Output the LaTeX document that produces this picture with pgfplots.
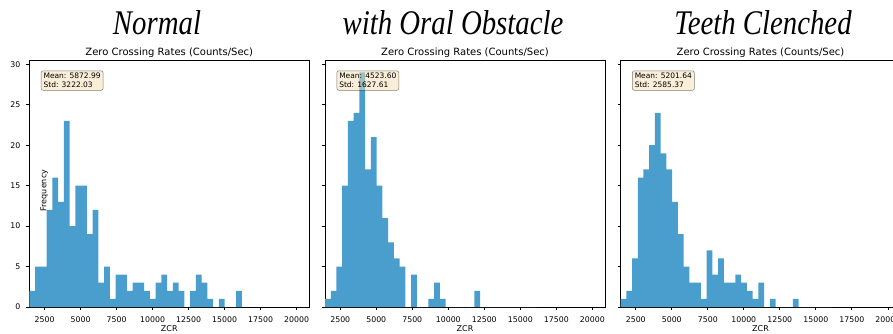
\documentclass[border=0pt]{standalone}
\usepackage{fontspec}
\setmainfont{DejaVu Sans}
\newfontfamily\headfont{Liberation Serif}
\usepackage{graphicx}
\usepackage{pgfplots}
\usepackage{pgfplotstable}
\pgfplotsset{compat=1.18}

\definecolor{barblue}{RGB}{74,158,206}
\definecolor{wheat}{RGB}{245,222,179}

% Histogram counts per bin (left bin edge, counts for each condition)
\pgfplotstableread{
edge  normal oral clenched
1440  2  1  1
1839  5  2  2
2238  5  5  6
2637  12 15 16
3036  16 23 17
3435  13 24 20
3834  23 29 24
4233  10 17 19
4632  15 21 17
5031  15 15 13
5430  9  11 9
5829  12 8  5
6228  3  6  3
6627  5  5  3
7026  1  0  1
7425  4  4  7
7824  4  0  4
8223  2  0  6
8622  3  1  3
9021  3  3  3
9420  2  1  4
9819  1  0  3
10218 3  0  2
10617 4  0  1
11016 2  0  3
11415 3  0  0
11814 2  2  1
12213 0  0  0
12612 2  0  0
13011 4  0  0
13410 3  0  1
13809 1  0  0
14208 0  0  0
14607 1  0  0
15006 0  0  0
15405 0  0  0
15804 2  0  0
16203 0  0  0
}\zcrhist

\tikzset{
  statbox/.style={fill=wheat, fill opacity=0.5, text opacity=1, draw=black, draw opacity=0.5,
    line width=0.5pt, rounded corners=2pt, inner sep=2.4pt, anchor=north west, align=left,
    xshift=-2.4pt, yshift=2.4pt, font=\fontsize{7.5}{9}\selectfont},
  head/.style={anchor=base, font=\headfont\itshape\fontsize{28.8}{30}\selectfont},
}

\pgfplotsset{
  zcrpanel/.style={
    scale only axis, width=280pt, height=246.3pt,
    anchor=south west,
    xmin=1440, xmax=20880, ymin=0, ymax=30.45,
    xtick={2500,5000,...,20000}, ytick={0,5,...,30},
    scaled x ticks=false, scaled y ticks=false,
    tick align=outside, tick pos=left,
    major tick length=2.9pt,
    every tick/.style={black, line width=0.66pt},
    axis line style={black, line width=0.66pt},
    ticklabel style={font=\fontsize{7.8}{9.5}\selectfont, inner sep=0pt},
    /pgf/number format/fixed,
    /pgf/number format/1000 sep={},
    /pgf/number format/assume math mode=true,
    xticklabel style={anchor=base, yshift=-13pt},
    yticklabel style={anchor=east, xshift=-5.8pt},
    every axis title shift=0pt,
    title={Zero Crossing Rates (Counts/Sec)},
    title style={font=\fontsize{10}{12}\selectfont, at={(axis description cs:0.5,1)}, anchor=base, yshift=5pt, inner sep=0pt},
    xlabel={ZCR},
    xlabel style={font=\fontsize{8}{10}\selectfont, at={(axis description cs:0.5,0)}, anchor=base, yshift=-24.5pt, inner sep=0pt},
  },
}

\begin{document}
\begin{tikzpicture}
% Normal
\begin{axis}[zcrpanel, at={(29.3pt,26pt)}]
  \addplot[const plot, fill=barblue, draw=none] table[x=edge, y=normal]{\zcrhist} \closedcycle;
  \node[rotate=90, font=\fontsize{8}{10}\selectfont] at (axis cs:2480,14.4) {Frequency};
  \node[statbox] at (rel axis cs:0.05,0.95) {Mean: 5872.99\\Std: 3222.03};
\end{axis}
% With oral obstacle
\begin{axis}[zcrpanel, at={(325pt,26pt)}, yticklabels={}]
  \addplot[const plot, fill=barblue, draw=none] table[x=edge, y=oral]{\zcrhist} \closedcycle;
  \node[statbox] at (rel axis cs:0.05,0.95) {Mean: 4523.60\\Std: 1627.61};
\end{axis}
% Teeth clenched
\begin{axis}[zcrpanel, at={(620.5pt,26pt)}, yticklabels={}]
  \addplot[const plot, fill=barblue, draw=none] table[x=edge, y=clenched]{\zcrhist} \closedcycle;
  \node[statbox] at (rel axis cs:0.05,0.95) {Mean: 5201.64\\Std: 2585.37};
\end{axis}
% Condition headings
\node[head] at (157pt,299pt) {\scalebox{1}[1.2]{Normal}};
\node[head] at (453pt,299pt) {\scalebox{1}[1.2]{with Oral Obstacle}};
\node[head] at (763pt,299pt) {\scalebox{1}[1.2]{Teeth Clenched}};
\pgfresetboundingbox
\path[use as bounding box] (0pt,0pt) rectangle (893pt,333pt);
\end{tikzpicture}
\end{document}
